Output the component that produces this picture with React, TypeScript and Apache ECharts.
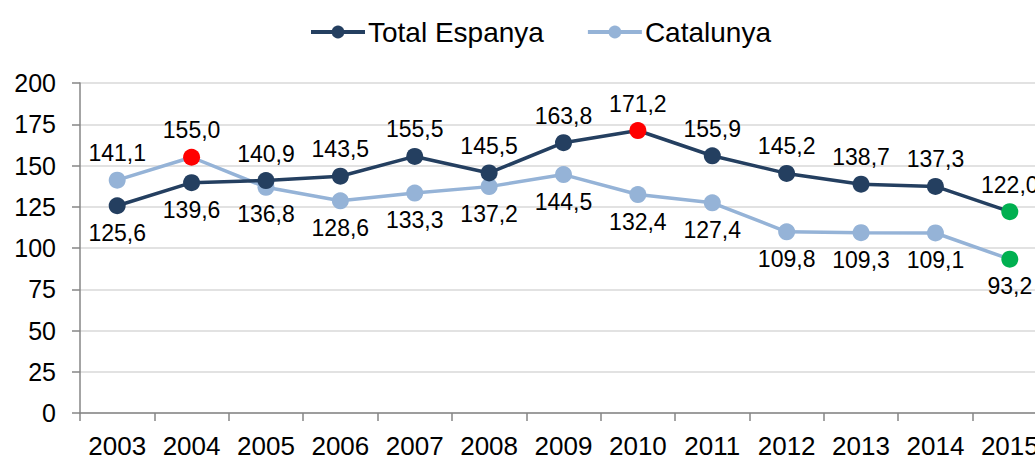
import React, { useEffect, useRef } from "react";
import * as echarts from "echarts";

const years = ["2003","2004","2005","2006","2007","2008","2009","2010","2011","2012","2013","2014","2015"];
const totalEspanya = [125.6, 139.6, 140.9, 143.5, 155.5, 145.5, 163.8, 171.2, 155.9, 145.2, 138.7, 137.3, 122.0];
const catalunya = [141.1, 155.0, 136.8, 128.6, 133.3, 137.2, 144.5, 132.4, 127.4, 109.8, 109.3, 109.1, 93.2];
const totalLabelPos = ["bottom","bottom","top","top","top","top","top","top","top","top","top","top","top"];
const catLabelPos = ["top","top","bottom","bottom","bottom","bottom","bottom","bottom","bottom","bottom","bottom","bottom","bottom"];
const yTicks = [0, 25, 50, 75, 100, 125, 150, 175, 200];

const DARK = "#243f60";
const LIGHT = "#95b3d7";
const RED = "#ff0000";
const GREEN = "#00b050";
const FONT = "'Liberation Sans', Arial, sans-serif";

function fmt(v: number) {
  return v.toFixed(1).replace(".", ",");
}

function buildData(values: number[], positions: string[]) {
  const max = Math.max(...values);
  const min = Math.min(...values);
  return values.map((v, i) => {
    const item: any = {
      value: v,
      label: { position: positions[i] },
    };
    if (v === max) item.itemStyle = { color: RED };
    else if (v === min) item.itemStyle = { color: GREEN };
    return item;
  });
}

export default function App() {
  const ref = useRef<HTMLDivElement>(null);
  useEffect(() => {
    if (!ref.current) return;
    const chart = echarts.init(ref.current, undefined, { renderer: "svg" });
    const labelCommon = {
      show: true,
      fontSize: 23,
      fontFamily: FONT,
      color: "#000",
      distance: 7,
      formatter: (p: any) => fmt(p.value),
    };
    chart.setOption({
      animation: false,
      backgroundColor: "#fff",
      textStyle: { fontFamily: FONT },
      legend: {
        left: 304,
        top: 13,
        itemWidth: 54,
        itemHeight: 16,
        itemGap: 42,
        lineStyle: { width: 4 },
        textStyle: { fontSize: 28, color: "#000", fontFamily: FONT, padding: [0, 0, 0, -2] },
        data: ["Total Espanya", "Catalunya"],
      },
      grid: { left: 80, top: 83, width: 967, height: 330 },
      xAxis: {
        type: "category",
        data: years,
        boundaryGap: true,
        axisLine: { lineStyle: { color: "#868686", width: 1.5 } },
        axisTick: { show: true, length: 8, alignWithLabel: false, lineStyle: { color: "#868686", width: 1.5 } },
        axisLabel: { fontSize: 26, color: "#000", margin: 20, fontFamily: FONT, interval: 0 },
      },
      yAxis: {
        type: "value",
        min: yTicks[0],
        max: yTicks[yTicks.length - 1],
        interval: 25,
        axisLine: { show: true, lineStyle: { color: "#868686", width: 1.5 } },
        axisTick: { show: true, length: 8, lineStyle: { color: "#868686", width: 1.5 } },
        axisLabel: { fontSize: 25, color: "#000", margin: 24, fontFamily: FONT },
        splitLine: { lineStyle: { color: "#d9d9d9", width: 1.5 } },
      },
      series: [
        {
          name: "Total Espanya",
          type: "line",
          data: buildData(totalEspanya, totalLabelPos),
          symbol: "circle",
          symbolSize: 17,
          lineStyle: { color: DARK, width: 3.5 },
          itemStyle: { color: DARK },
          label: labelCommon,
          z: 3,
        },
        {
          name: "Catalunya",
          type: "line",
          data: buildData(catalunya, catLabelPos),
          symbol: "circle",
          symbolSize: 17,
          lineStyle: { color: LIGHT, width: 3.5 },
          itemStyle: { color: LIGHT },
          label: labelCommon,
          z: 2,
        },
      ],
    });
    return () => chart.dispose();
  }, []);
  return (
    <div
      ref={ref}
      style={{ position: "fixed", left: 0, top: 0, width: 1070, height: 461 }}
    />
  );
}
